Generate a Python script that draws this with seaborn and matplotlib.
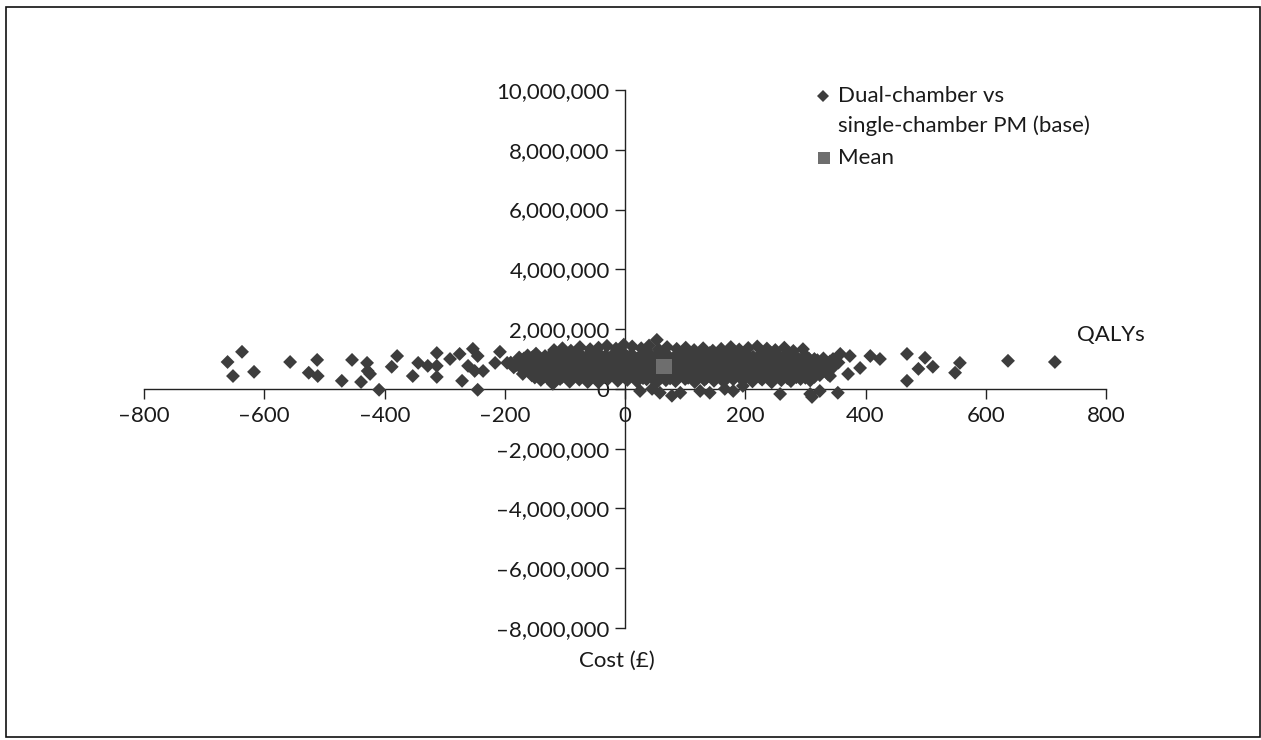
import matplotlib
matplotlib.use("Agg")
import matplotlib.pyplot as plt
import matplotlib.ticker as mticker
from matplotlib.patches import Rectangle
from matplotlib.lines import Line2D
import seaborn as sns
import pandas as pd

# ---- data (x = QALYs axis value, y = cost axis value in millions) ----
outlier_x = [-661, -637, -652, -617, -557, -512, -526, -511, -454, -471, -429, -428, -424, -439,
             -409, -379, -388, -353, -344, -328, -313, -313, -313, -291, -275, -271, -261, -253,
             -245, -250, -236, -245, -208, -216, -196, -120, -62,
             53, 25, 45, 58, 78, 92, 125, 141, 166, 180, 196, 258, 308, 311, 324, 354,
             358, 374, 346, 391, 408, 424, 469, 499, 488, 512, 469, 557, 549, 637, 715, 341, 371]
outlier_y = [0.90, 1.24, 0.43, 0.57, 0.90, 0.97, 0.54, 0.43, 0.97, 0.27, 0.87, 0.60, 0.50, 0.23,
             -0.03, 1.10, 0.74, 0.43, 0.87, 0.77, 1.20, 0.77, 0.40, 1.00, 1.17, 0.27, 0.77, 1.34,
             1.10, 0.60, 0.60, -0.03, 1.24, 0.87, 0.87, 0.17, 0.23,
             1.64, -0.07, 0.00, -0.13, -0.23, -0.13, -0.07, -0.13, 0.00, -0.07, 0.10, -0.17, -0.17, -0.27, -0.07, -0.13,
             1.17, 1.10, 1.00, 0.70, 1.10, 1.00, 1.17, 1.04, 0.67, 0.74, 0.27, 0.87, 0.54, 0.94, 0.90, 0.43, 0.50]

rowA_x = [-118, -104, -90, -75, -58, -44, -30, -15, -2, 12, 27, 40, 56, 70, 86, 101, 115, 130, 146,
          160, 176, 190, 205, 220, 236, 250, 265, 280, 296]
rowA_y = [1.30, 1.36, 1.28, 1.40, 1.33, 1.38, 1.44, 1.35, 1.48, 1.42, 1.36, 1.45, 1.32, 1.40, 1.34,
          1.38, 1.30, 1.36, 1.28, 1.34, 1.40, 1.32, 1.37, 1.42, 1.35, 1.30, 1.38, 1.27, 1.33]
rowB_x = [-176, -162, -148, -133, -119, -104, -90, -76, -61, -47, -32, -18, -4, 11, 25, 39, 54, 68,
          83, 97, 112, 126, 141, 155, 170, 184, 199, 213, 228, 242, 257, 271, 286, 300, 315, 330]
rowB_y = [1.05, 1.12, 1.18, 1.10, 1.22, 1.15, 1.08, 1.20, 1.14, 1.25, 1.12, 1.19, 1.23, 1.16, 1.10,
          1.21, 1.14, 1.18, 1.09, 1.22, 1.15, 1.11, 1.20, 1.16, 1.24, 1.13, 1.19, 1.08, 1.17, 1.22,
          1.10, 1.15, 1.05, 1.12, 1.00, 1.02]
rowC_x = [-190, -177, -163, -149, -135, -121, -107, -93, -79, -65, -51, -37, -23, -9, 5, 19, 33, 47,
          61, 75, 89, 103, 117, 131, 145, 159, 173, 187, 201, 215, 229, 243, 257, 271, 285, 299, 313,
          327, 341, 355]
rowC_y = [0.88, 0.95, 0.90, 0.98, 0.92, 0.87, 0.96, 0.91, 0.85, 0.97, 0.93, 0.89, 0.99, 0.94, 0.86,
          0.92, 0.97, 0.90, 0.88, 0.95, 0.91, 0.98, 0.86, 0.93, 0.90, 0.96, 0.87, 0.92, 0.99, 0.89,
          0.94, 0.91, 0.85, 0.93, 0.88, 0.95, 0.90, 0.86, 0.92, 0.88]
rowD_x = [-185, -171, -157, -143, -129, -115, -101, -87, -73, -59, -45, -31, -17, -3, 11, 25, 39, 53,
          67, 81, 95, 109, 123, 137, 151, 165, 179, 193, 207, 221, 235, 249, 263, 277, 291, 305, 319,
          333, 347]
rowD_y = [0.72, 0.66, 0.75, 0.69, 0.63, 0.74, 0.70, 0.65, 0.77, 0.68, 0.72, 0.64, 0.76, 0.70, 0.67,
          0.73, 0.62, 0.71, 0.75, 0.66, 0.70, 0.74, 0.63, 0.69, 0.76, 0.68, 0.72, 0.65, 0.71, 0.77,
          0.67, 0.70, 0.64, 0.73, 0.69, 0.66, 0.72, 0.68, 0.74]
rowE_x = [-170, -155, -140, -126, -111, -97, -82, -68, -53, -39, -24, -10, 5, 19, 34, 48, 63, 77, 92,
          106, 121, 135, 150, 164, 179, 193, 208, 222, 237, 251, 266, 280, 295, 309, 324, 338]
rowE_y = [0.50, 0.45, 0.55, 0.48, 0.42, 0.53, 0.47, 0.56, 0.44, 0.51, 0.46, 0.54, 0.49, 0.43, 0.52,
          0.47, 0.55, 0.45, 0.50, 0.53, 0.44, 0.48, 0.56, 0.46, 0.51, 0.42, 0.54, 0.49, 0.45, 0.52,
          0.47, 0.43, 0.50, 0.55, 0.46, 0.48]
rowF_x = [-140, -124, -108, -92, -76, -60, -44, -28, -12, 4, 20, 36, 52, 68, 84, 100, 116, 132, 148,
          164, 180, 196, 212, 228, 244, 260, 276, 292, 308]
rowF_y = [0.30, 0.26, 0.33, 0.24, 0.31, 0.28, 0.22, 0.34, 0.27, 0.30, 0.25, 0.32, 0.21, 0.29, 0.26,
          0.33, 0.23, 0.30, 0.27, 0.24, 0.32, 0.28, 0.25, 0.31, 0.22, 0.29, 0.26, 0.33, 0.28]
rowG_x = [-168, -154, -140, -126, -112, -97, -83, -69, -54, -40, -26, -11, 3, 18, 32, 46, 61, 75, 90,
          104, 118, 133, 147, 162, 176, 190, 205, 219, 234, 248, 262, 277, 291, 306, 320]
rowG_y = [1.02, 1.06, 0.99, 1.04, 1.08, 1.01, 1.05, 0.98, 1.07, 1.03, 1.00, 1.06, 1.09, 1.02, 1.05,
          0.99, 1.07, 1.03, 1.01, 1.06, 1.04, 0.98, 1.08, 1.02, 1.05, 1.00, 1.07, 1.03, 0.99, 1.05,
          1.02, 1.06, 0.98, 1.01, 0.96]
rowH_x = [-180, -166, -152, -138, -124, -110, -95, -81, -67, -52, -38, -24, -9, 5, 20, 34, 49, 63, 78,
          92, 107, 121, 136, 150, 165, 179, 194, 208, 223, 237, 252, 266, 281, 295, 310, 324, 339]
rowH_y = [0.80, 0.83, 0.78, 0.82, 0.79, 0.84, 0.81, 0.77, 0.83, 0.80, 0.78, 0.85, 0.81, 0.79, 0.83,
          0.80, 0.77, 0.84, 0.82, 0.79, 0.81, 0.85, 0.78, 0.82, 0.80, 0.83, 0.79, 0.81, 0.84, 0.78,
          0.82, 0.80, 0.77, 0.83, 0.79, 0.81, 0.80]
rowI_x = [-160, -146, -131, -117, -103, -88, -74, -60, -45, -31, -17, -2, 12, 27, 41, 55, 70, 84, 99,
          113, 127, 142, 156, 171, 185, 199, 214, 228, 243, 257, 271, 286, 300, 315, 329]
rowI_y = [0.60, 0.58, 0.62, 0.57, 0.61, 0.59, 0.63, 0.56, 0.60, 0.62, 0.58, 0.61, 0.57, 0.63, 0.59,
          0.60, 0.56, 0.62, 0.58, 0.61, 0.59, 0.63, 0.57, 0.60, 0.62, 0.58, 0.61, 0.56, 0.60, 0.63,
          0.59, 0.57, 0.61, 0.58, 0.60]
rowJ_x = [-150, -135, -120, -105, -90, -75, -60, -45, -30, -15, 0, 15, 30, 45, 60, 75, 90, 105, 120,
          135, 150, 165, 180, 195, 210, 225, 240, 255, 270, 285, 300, 315]
rowJ_y = [0.38, 0.40, 0.36, 0.39, 0.41, 0.37, 0.40, 0.35, 0.38, 0.41, 0.37, 0.39, 0.36, 0.40, 0.38,
          0.35, 0.41, 0.37, 0.39, 0.36, 0.40, 0.38, 0.35, 0.39, 0.41, 0.37, 0.38, 0.40, 0.36, 0.39,
          0.37, 0.40]

mean_x = [65]
mean_y = [0.75]

x_ticks = [-800, -600, -400, -200, 0, 200, 400, 600, 800]
y_ticks = [-8, -6, -4, -2, 0, 2, 4, 6, 8, 10]  # millions

series_label_lines = ["Dual-chamber vs", "single-chamber PM (base)"]
mean_label = "Mean"

# ---- build frame ----
all_x = (rowA_x + rowB_x + rowC_x + rowD_x + rowE_x + rowF_x + rowG_x + rowH_x + rowI_x + rowJ_x
         + outlier_x)
all_y = (rowA_y + rowB_y + rowC_y + rowD_y + rowE_y + rowF_y + rowG_y + rowH_y + rowI_y + rowJ_y
         + outlier_y)
df = pd.DataFrame({"qaly": all_x, "cost": [v * 1e6 for v in all_y]})
dfm = pd.DataFrame({"qaly": mean_x, "cost": [v * 1e6 for v in mean_y]})

sns.set_theme(style="white")
plt.rcParams["font.family"] = ["Lato", "DejaVu Sans"]

W, H = 1261, 740
fig = plt.figure(figsize=(W / 100, H / 100), dpi=100)
ax = fig.add_axes([144 / W, (H - 628) / H, 962 / W, 538 / H])
ax.set_facecolor("none")

pt_color = "#3d3d3d"
txt_color = "#1a1a1a"
fs = 16

sns.scatterplot(data=df, x="qaly", y="cost", marker="D", s=50, color=pt_color,
                edgecolor="none", linewidth=0, ax=ax, legend=False, zorder=3, clip_on=False)
sns.scatterplot(data=dfm, x="qaly", y="cost", marker="s", s=128, color="#6e6e6e",
                edgecolor="none", linewidth=0, ax=ax, legend=False, zorder=4, clip_on=False)

ax.set_xlim(-800, 800)
ax.set_ylim(-8e6, 10e6)
ax.set_xticks(x_ticks)
ax.set_yticks([v * 1e6 for v in y_ticks])


def en_dash(s):
    return s.replace("-", "\u2013")


ax.xaxis.set_major_formatter(mticker.FuncFormatter(lambda v, p: en_dash(f"{v:.0f}")))
ax.yaxis.set_major_formatter(mticker.FuncFormatter(lambda v, p: en_dash(f"{v:,.0f}")))

for side in ["top", "right"]:
    ax.spines[side].set_visible(False)
for side in ["left", "bottom"]:
    ax.spines[side].set_position(("data", 0))
    ax.spines[side].set_color("#222222")
    ax.spines[side].set_linewidth(1.0)
    ax.spines[side].set_zorder(2)

ax.tick_params(axis="both", which="major", direction="out", length=7, width=1.0,
               color="#222222", labelsize=fs, labelcolor=txt_color)
ax.tick_params(axis="x", pad=5, bottom=True)
ax.tick_params(axis="y", pad=4, left=True)
ax.set_xlabel("")
ax.set_ylabel("")

fig.text(1077 / W, 1 - 335 / H, "QALYs", fontsize=fs, color=txt_color, ha="left", va="center")
fig.text(617 / W, 1 - 661 / H, "Cost (\u00a3)", fontsize=fs, color=txt_color, ha="center", va="center")

# legend, drawn by hand so the marker sits on the first text line
fig.add_artist(Line2D([822.5 / W], [1 - 96 / H], marker="D", linestyle="none", color=pt_color,
                      markersize=6.5, markeredgewidth=0, transform=fig.transFigure))
fig.add_artist(Line2D([824 / W], [1 - 158 / H], marker="s", linestyle="none", color="#6e6e6e",
                      markersize=9, markeredgewidth=0, transform=fig.transFigure))
fig.text(838 / W, 1 - 96 / H, series_label_lines[0], fontsize=fs, color=txt_color, ha="left", va="center")
fig.text(838 / W, 1 - 126 / H, series_label_lines[1], fontsize=fs, color=txt_color, ha="left", va="center")
fig.text(838 / W, 1 - 158 / H, mean_label, fontsize=fs, color=txt_color, ha="left", va="center")

fig.patches.append(Rectangle((5.5 / W, 3 / H), 1254 / W, 730.5 / H, fill=False,
                             edgecolor="#111111", linewidth=1.2, transform=fig.transFigure, figure=fig))

fig.savefig("out.png", dpi=100, facecolor="white")
